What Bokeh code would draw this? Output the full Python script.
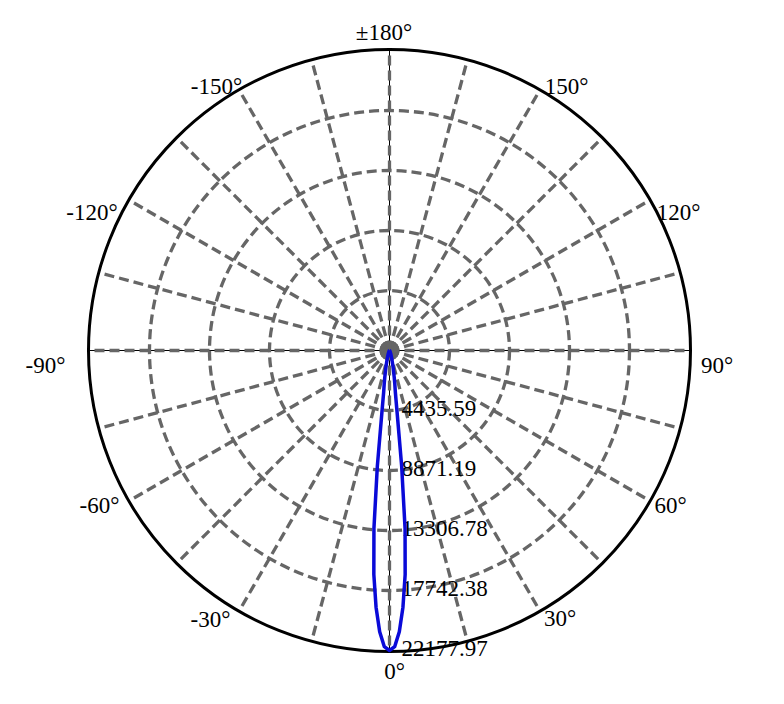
import numpy as np
from bokeh.plotting import figure
from bokeh.models import Range1d
from bokeh.core.properties import value
from bokeh.embed import file_html
from bokeh.resources import INLINE

# ---------------- data ----------------
max_intensity = 22177.97
ring_labels = ["4435.59", "8871.19", "13306.78", "17742.38", "22177.97"]
ring_values = [4435.59, 8871.19, 13306.78, 17742.38, 22177.97]

angle_labels = ["±180°", "-150°", "150°", "-120°", "120°", "-90°", "90°",
                "-60°", "60°", "-30°", "30°", "0°"]
angle_label_angles = [180, -150, 150, -120, 120, -90, 90, -60, 60, -30, 30, 0]

# C0 plane (right half) and C180 plane (left half), gamma in degrees
gamma = [0, 1, 2, 3, 4, 5, 6, 7, 8, 9, 10, 12, 15, 20, 25, 30, 40, 50, 60, 90, 120, 150, 180]
intensity_c0 = [22177.97, 21900, 20800, 19000, 16600, 13200, 8600, 4600, 3100, 2500,
                2000, 1300, 700, 300, 150, 80, 30, 10, 5, 0, 0, 0, 0]
intensity_c180 = [22177.97, 21900, 20800, 19000, 16600, 13200, 8600, 4600, 3100, 2500,
                  2000, 1300, 700, 300, 150, 80, 30, 10, 5, 0, 0, 0, 0]

# ---------------- layout ----------------
W, H = 768, 688
CX, CY = 389, 350          # centre in figure pixels
K = max_intensity / 300.0  # data units per pixel
GRID = "#666666"
FONT = "Liberation Serif"

# label centres, pixel offsets from centre (x right, y down)
label_off = {
    "±180°": (-5.5, -318), "-150°": (-173, -264), "150°": (177, -264),
    "-120°": (-297.5, -138), "120°": (289, -138), "-90°": (-344, 15),
    "90°": (327.5, 15), "-60°": (-290, 155), "60°": (281, 155),
    "-30°": (-179, 268.5), "30°": (170.5, 268), "0°": (5, 321),
}

p = figure(width=W, height=H, output_backend="svg", toolbar_location=None,
           x_range=Range1d(-CX * K, (W - CX) * K),
           y_range=Range1d(-(H - CY) * K, CY * K),
           min_border=0)
p.axis.visible = False
p.grid.visible = False
p.outline_line_color = None
p.background_fill_color = "white"
p.border_fill_color = "white"

R = max_intensity

# thin black axis lines
p.segment(x0=[-R, 0], y0=[0, -R], x1=[R, 0], y1=[0, R], line_color="black", line_width=1)

# spokes every 15 degrees
sp = np.radians(np.arange(0, 360, 15))
p.segment(x0=np.zeros(len(sp)), y0=np.zeros(len(sp)), x1=R * np.sin(sp), y1=-R * np.cos(sp),
          line_color=GRID, line_width=3.3, line_dash="10 5")

# dashed rings
for rv in ring_values[:-1]:
    p.circle(x=[0], y=[0], radius=rv, fill_color=None, line_color=GRID,
             line_width=3.3, line_dash="10 5")

# outer circle
p.circle(x=[0], y=[0], radius=R + 1 * K, fill_color=None, line_color="black", line_width=3)

# ring labels
p.text(x=[12 * K] * len(ring_values), y=[-rv + 2 * K for rv in ring_values], text=ring_labels,
       text_font=value(FONT), text_font_size="23px", text_color="black",
       text_align="left", text_baseline="middle")

# curve
g = np.radians(np.array(gamma, dtype=float))
i0 = np.array(intensity_c0, dtype=float)
i180 = np.array(intensity_c180, dtype=float)
xl = -i180[::-1] * np.sin(g[::-1])
yl = -i180[::-1] * np.cos(g[::-1])
xr = i0 * np.sin(g)
yr = -i0 * np.cos(g)
xs = np.concatenate([xl, xr[1:]])
ys = np.concatenate([yl, yr[1:]])
p.line(xs, ys, line_color="#0a0ad8", line_width=3.5, line_join="round")

# angle labels
lx = [label_off[t][0] * K for t in angle_labels]
ly = [-label_off[t][1] * K for t in angle_labels]
p.text(x=lx, y=ly, text=angle_labels, text_font=value(FONT), text_font_size="23px",
       text_color="black", text_align="center", text_baseline="middle")

open("out.html", "w").write(file_html(p, INLINE))
